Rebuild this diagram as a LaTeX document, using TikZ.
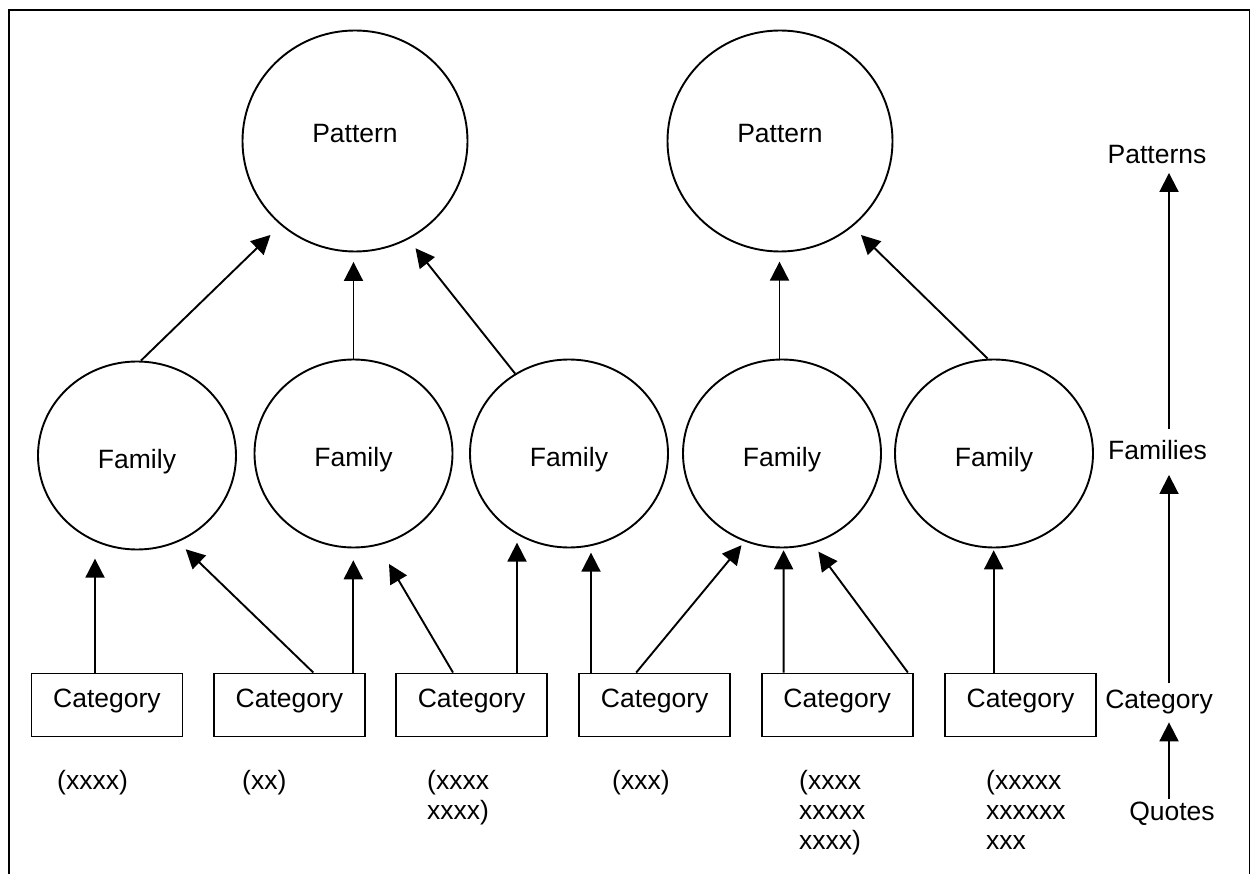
\documentclass[tikz,border=0pt]{standalone}
\usepackage{fontspec}
\setmainfont{Liberation Sans}
\usetikzlibrary{shapes.geometric,arrows.meta,calc}
\begin{document}
\begin{tikzpicture}[x=1pt,y=-1pt,
  every node/.style={font=\fontsize{26.5}{30}\selectfont},
  pat/.style={draw, ellipse, line width=1.9pt, minimum width=225pt, minimum height=221pt, inner sep=0pt, text height=19pt, text depth=15pt},
  fam/.style={draw, ellipse, line width=1.9pt, minimum width=198pt, minimum height=188pt, inner sep=0pt, text height=32pt, text depth=5.6pt},
  cat/.style={draw, rectangle, line width=1.9pt, minimum width=151pt, minimum height=63pt, inner sep=0pt, text height=19.3pt, text depth=13.9pt},
  note/.style={anchor=north west, inner sep=0pt, align=left},
  lab/.style={anchor=base, inner sep=0pt},
  arr/.style={line width=1.9pt, -{Triangle[length=19pt,width=19pt]}},
  frame/.style={line width=1.9pt}]
\useasboundingbox (0,0) rectangle (1253,874);
\draw[frame] (9,874) -- (9,10) -- (1249.5,10) -- (1249.5,874);

% patterns
\node[pat] (p1) at (355,141) {Pattern};
\node[pat] (p2) at (780,141) {Pattern};
% families
\node[fam] (f1) at (137,455.5) {Family};
\node[fam] (f2) at (353.5,453.5) {Family};
\node[fam] (f3) at (569,453.5) {Family};
\node[fam] (f4) at (782,453.5) {Family};
\node[fam] (f5) at (994,453.5) {Family};
% categories
\node[cat] (c1) at (107,705) {Category};
\node[cat] (c2) at (289.5,705) {Category};
\node[cat] (c3) at (471.6,705) {Category};
\node[cat] (c4) at (654.7,705) {Category};
\node[cat] (c5) at (837.2,705) {Category};
\node[cat] (c6) at (1020.5,705) {Category};
% quotes
\node[note] (q1) at (57,769.7) {(xxxx)};
\node[note] (q2) at (242,769.7) {(xx)};
\node[note] (q3) at (427,769.7) {(xxxx\\xxxx)};
\node[note] (q4) at (612,769.7) {(xxx)};
\node[note] (q5) at (799,769.7) {(xxxx\\xxxxx\\xxxx)};
\node[note] (q6) at (986,769.7) {(xxxxx\\xxxxxx\\xxx};
% right legend
\node[lab] (lpat) at (1157,164) {Patterns};
\node[lab] (lfam) at (1157.5,459.5) {Families};
\node[lab] (lcat) at (1159,708) {Category};
\node[lab] (lquo) at (1172,820) {Quotes};
\coordinate (axis) at (1169,0);

% family -> pattern
\draw[arr] ([xshift=4pt]f1.north) -- ([xshift=-84.5pt,yshift=17.5pt]p1.south);
\draw[arr] (f2.north) -- ([xshift=-1.5pt,yshift=-9.5pt]p1.south);
\draw[arr] (f3.124) -- ([xshift=60.5pt,yshift=4.2pt]p1.south);
\draw[arr] ([xshift=-2.5pt]f4.north) -- ([xshift=-0.5pt,yshift=-9.2pt]p2.south);
\draw[arr] ([xshift=-6.4pt]f5.north) -- ([xshift=81pt,yshift=17.5pt]p2.south);

% category -> family
\draw[arr] ([xshift=-12pt]c1.north) -- ([xshift=-42pt,yshift=-8.2pt]f1.south);
\draw[arr] ([xshift=23.8pt]c2.north) -- ([xshift=48.7pt,yshift=1.2pt]f1.south);
\draw[arr] ([xshift=63.8pt]c2.north) -- ([xshift=-0.2pt,yshift=-11.8pt]f2.south);
\draw[arr] ([xshift=-18.6pt]c3.north) -- ([xshift=35.5pt,yshift=-15.5pt]f2.south);
\draw[arr] ([xshift=45.4pt]c3.north) -- ([xshift=-52pt,yshift=5.8pt]f3.south);
\draw[arr] ([xshift=-63.7pt]c4.north) -- ([xshift=22pt,yshift=-4.2pt]f3.south);
\draw[arr] ([xshift=-18.5pt]c4.north) -- ([xshift=-40.5pt,yshift=3.2pt]f4.south);
\draw[arr] ([xshift=-53.6pt]c5.north) -- ([xshift=1.6pt,yshift=-1.8pt]f4.south);
\draw[arr] ([xshift=70.7pt]c5.north) -- ([xshift=36.4pt,yshift=-3.2pt]f4.south);
\draw[arr] ([xshift=-26.8pt]c6.north) -- ([xshift=-0.3pt,yshift=-1.8pt]f5.south);

% legend arrows
\draw[arr] ($(lquo.north -| axis)+(0,-2.7)$) -- ($(lcat.south -| axis)+(0,8.7)$);
\draw[arr] ($(lcat.north -| axis)+(0,-6)$) -- ($(lfam.south -| axis)+(0,15)$);
\draw[arr] ($(lfam.north -| axis)+(0,-11.5)$) -- ($(lpat.south -| axis)+(0,8.5)$);
\end{tikzpicture}
\end{document}
